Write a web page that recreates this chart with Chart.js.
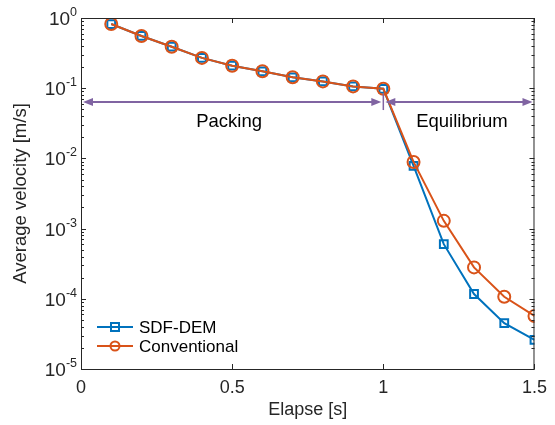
<!DOCTYPE html>
<html>
<head>
<meta charset="utf-8">
<script src="https://cdn.jsdelivr.net/npm/chart.js@4.4.1/dist/chart.umd.min.js"></script>
<style>
  body { margin: 0; background: #fff; }
  canvas { display: block; }
</style>
</head>
<body>
<canvas id="chart" width="555" height="425"></canvas>
<script>
const elapse = [0.1, 0.2, 0.3, 0.4, 0.5, 0.6, 0.7, 0.8, 0.9, 1.0, 1.1, 1.2, 1.3, 1.4, 1.5];
const sdfDem = [0.82, 0.555, 0.39, 0.27, 0.209, 0.174, 0.143, 0.125, 0.106, 0.098, 0.0078, 6.0e-4, 1.17e-4, 4.5e-5, 2.6e-5];
const conventional = [0.82, 0.555, 0.39, 0.27, 0.209, 0.174, 0.143, 0.125, 0.106, 0.098, 0.0089, 1.29e-3, 2.8e-4, 1.07e-4, 5.7e-5];

const xTicks = [0, 0.5, 1, 1.5];
const xTickLabels = ["0", "0.5", "1", "1.5"];
const yExponents = [0, -1, -2, -3, -4, -5];

const phaseNames = ["Packing", "Equilibrium"];
const phaseBounds = [[0, 1], [1, 1.5]];
const phaseTextX = [0.49, 1.26];
const arrowLevel = 0.0635;

const AXIS = "#262626";
const BLUE = "#0072BD";
const ORANGE = "#D95319";
const PURPLE = "#8064A2";
const FONT = "'Liberation Sans', Arial, sans-serif";

function toPoints(ys) {
  return elapse.map((x, i) => ({ x: x, y: ys[i] }));
}

// box, inward ticks, y labels with superscripts
const axesPlugin = {
  id: "axesBox",
  afterDraw(chart) {
    const { ctx, chartArea: a, scales: { x, y } } = chart;
    ctx.save();
    ctx.strokeStyle = AXIS;
    ctx.lineWidth = 1;
    ctx.strokeRect(a.left + 0.5, a.top + 0.5, a.right - a.left - 1, a.bottom - a.top);

    ctx.beginPath();
    xTicks.forEach(v => {
      const px = Math.round(x.getPixelForValue(v)) + 0.5;
      ctx.moveTo(px, a.bottom); ctx.lineTo(px, a.bottom - 5);
      ctx.moveTo(px, a.top); ctx.lineTo(px, a.top + 5);
    });
    yExponents.forEach(e => {
      for (let m = 1; m <= 9; m++) {
        const v = m * Math.pow(10, e);
        if (v > 1.0001) continue;
        const py = Math.round(y.getPixelForValue(v)) + 0.5;
        const len = m === 1 ? 5 : 3;
        ctx.moveTo(a.left, py); ctx.lineTo(a.left + len, py);
        ctx.moveTo(a.right, py); ctx.lineTo(a.right - len, py);
      }
    });
    ctx.stroke();

    ctx.fillStyle = AXIS;
    ctx.textBaseline = "alphabetic";
    ctx.textAlign = "right";
    yExponents.forEach(e => {
      const py = y.getPixelForValue(Math.pow(10, e));
      const ex = String(e);
      ctx.font = "12.5px " + FONT;
      const ew = ctx.measureText(ex).width;
      ctx.fillText(ex, a.left - 4, py - 2);
      ctx.font = "19px " + FONT;
      ctx.fillText("10", a.left - 4 - ew, py + 7);
    });
    ctx.restore();
  }
};

// phase arrows and labels
const phasePlugin = {
  id: "phases",
  afterDatasetsDraw(chart) {
    const { ctx, scales: { x, y } } = chart;
    const py = y.getPixelForValue(arrowLevel);
    ctx.save();
    ctx.strokeStyle = PURPLE;
    ctx.fillStyle = PURPLE;
    ctx.lineWidth = 2;
    const head = (px, dir) => {
      ctx.beginPath();
      ctx.moveTo(px, py);
      ctx.lineTo(px - dir * 10, py - 4);
      ctx.lineTo(px - dir * 10, py + 4);
      ctx.closePath();
      ctx.fill();
    };
    phaseBounds.forEach(([x0, x1]) => {
      const p0 = x.getPixelForValue(x0) + 2;
      const p1 = x.getPixelForValue(x1) - 2;
      ctx.beginPath();
      ctx.moveTo(p0 + 4, py); ctx.lineTo(p1 - 4, py);
      ctx.stroke();
      head(p0, -1);
      head(p1, 1);
    });
    const pm = x.getPixelForValue(phaseBounds[0][1]);
    ctx.lineWidth = 1.5;
    ctx.beginPath();
    ctx.moveTo(pm, py - 8); ctx.lineTo(pm, py + 8);
    ctx.stroke();

    ctx.fillStyle = "#000";
    ctx.font = "18.5px " + FONT;
    ctx.textAlign = "center";
    ctx.textBaseline = "middle";
    phaseNames.forEach((name, i) => {
      ctx.fillText(name, x.getPixelForValue(phaseTextX[i]), py + 20);
    });
    ctx.restore();
  }
};

// legend with line + marker samples
const legendPlugin = {
  id: "lineLegend",
  afterDraw(chart) {
    const { ctx, chartArea: a } = chart;
    ctx.save();
    chart.data.datasets.forEach((ds, i) => {
      const cy = a.bottom - 42 + i * 19;
      const x0 = a.left + 16, x1 = a.left + 52, cx = (x0 + x1) / 2;
      ctx.strokeStyle = ds.borderColor;
      ctx.lineWidth = 2;
      ctx.beginPath();
      ctx.moveTo(x0, cy); ctx.lineTo(x1, cy);
      ctx.stroke();
      ctx.beginPath();
      if (ds.pointStyle === "rect") ctx.rect(cx - 4, cy - 4, 8, 8);
      else ctx.arc(cx, cy, 4.5, 0, Math.PI * 2);
      ctx.stroke();
      ctx.fillStyle = "#000";
      ctx.font = "17px " + FONT;
      ctx.textAlign = "left";
      ctx.textBaseline = "middle";
      ctx.fillText(ds.label, x1 + 6, cy + 1);
    });
    ctx.restore();
  }
};

new Chart(document.getElementById("chart"), {
  type: "line",
  data: {
    datasets: [
      {
        label: "SDF-DEM",
        data: toPoints(sdfDem),
        order: 1,
        borderColor: BLUE,
        backgroundColor: "rgba(0,0,0,0)",
        borderWidth: 2,
        pointStyle: "rect",
        pointRadius: 5.5,
        pointBorderWidth: 2,
        pointBorderColor: BLUE,
        pointBackgroundColor: "rgba(0,0,0,0)"
      },
      {
        label: "Conventional",
        data: toPoints(conventional),
        order: 0,
        borderColor: ORANGE,
        backgroundColor: "rgba(0,0,0,0)",
        borderWidth: 2,
        pointStyle: "circle",
        pointRadius: 6,
        pointBorderWidth: 2,
        pointBorderColor: ORANGE,
        pointBackgroundColor: "rgba(0,0,0,0)"
      }
    ]
  },
  options: {
    responsive: false,
    animation: false,
    layout: { padding: { left: 0, right: 19, top: 18, bottom: 0 } },
    plugins: { legend: { display: false }, tooltip: { enabled: false } },
    scales: {
      x: {
        type: "linear",
        min: 0,
        max: 1.5,
        afterFit(scale) { scale.height = 56; },
        afterBuildTicks(scale) { scale.ticks = xTicks.map(v => ({ value: v })); },
        grid: { display: false, drawTicks: false },
        border: { display: false },
        ticks: {
          padding: 8,
          color: AXIS,
          font: { family: FONT, size: 18 },
          callback: (v) => xTickLabels[xTicks.indexOf(v)]
        },
        title: {
          display: true,
          text: "Elapse [s]",
          color: AXIS,
          font: { family: FONT, size: 18 },
          padding: { top: 0, bottom: 4 }
        }
      },
      y: {
        type: "logarithmic",
        min: 1e-5,
        max: 1,
        afterFit(scale) { scale.width = 81; },
        grid: { display: false, drawTicks: false },
        border: { display: false },
        ticks: { display: false },
        title: {
          display: true,
          text: "Average velocity [m/s]",
          color: AXIS,
          font: { family: FONT, size: 18.5 },
          padding: { top: 10, bottom: 0 }
        }
      }
    }
  },
  plugins: [axesPlugin, phasePlugin, legendPlugin]
});
</script>
</body>
</html>
